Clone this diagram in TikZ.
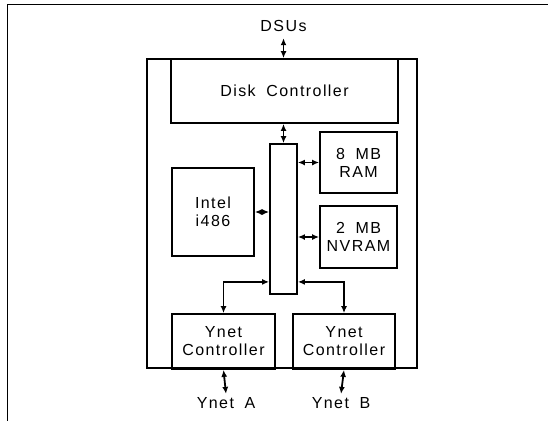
\documentclass[tikz,border=0pt]{standalone}
\usepackage{fontspec}
\setmainfont{Liberation Sans}[LetterSpace=9,WordSpace=1.8]
\usepackage{tikz}
\usetikzlibrary{arrows.meta,positioning,calc}

\tikzset{
  unit/.style={draw, line width=1.8pt, inner sep=0pt, align=center},
  link/.style={{Latex[length=7pt,width=6pt]}-{Latex[length=7pt,width=6pt]}, line width=1.8pt}
}

\begin{document}
\begin{tikzpicture}[x=1pt,y=-1pt,font=\fontsize{16}{18}\selectfont]
  \useasboundingbox (0,0) rectangle (548,421);
  % frame
  \draw[line width=0.9pt] (548,4) -- (7,4) -- (7,421);
  % board
  \draw[line width=1.8pt] (147,59) rectangle (417,368);
  % units
  \node[unit, minimum width=227pt, minimum height=64pt] (disk) at (284.5,91) {Disk Controller};
  \node[unit, minimum width=27pt, minimum height=150pt] (bus) at (283.5,219) {};
  \node[unit, minimum width=82pt, minimum height=88pt] (cpu) at (213,212) {Intel\\i486};
  \node[unit, minimum width=77pt, minimum height=61pt] (ram) at (358.5,162.5) {8 MB\\RAM};
  \node[unit, minimum width=77pt, minimum height=62pt] (nvram) at (358.5,237) {2 MB\\NVRAM};
  \node[unit, minimum width=103pt, minimum height=55pt] (yca) at (223.5,341.5) {Ynet\\Controller};
  \node[unit, minimum width=102pt, minimum height=55pt] (ycb) at (344,341.5) {Ynet\\Controller};
  % outside labels
  \node (dsu) at (283.5,26) {DSUs};
  \node (neta) at (226,403) {Ynet A};
  \node (netb) at (341,403) {Ynet B};
  % connections
  \draw[link] ([yshift=-3pt]dsu.south) -- (disk.north -| dsu.south);
  \draw[link] (disk.south -| bus.north) -- (bus.north);
  \draw[link] (cpu.east) -- (bus.west |- cpu.east);
  \draw[link] (bus.east |- ram.west) -- (ram.west);
  \draw[link] (bus.east |- nvram.west) -- (nvram.west);
  \coordinate (tapa) at ([yshift=13pt]bus.south west);
  \coordinate (tapb) at ([yshift=13pt]bus.south east);
  \draw[link] (tapa) -| (yca.north);
  \draw[link] (tapb) -| (ycb.north);
  \draw[link] (yca.south) -- (neta.north);
  \draw[link] (ycb.south) -- (netb.north);
\end{tikzpicture}
\end{document}
